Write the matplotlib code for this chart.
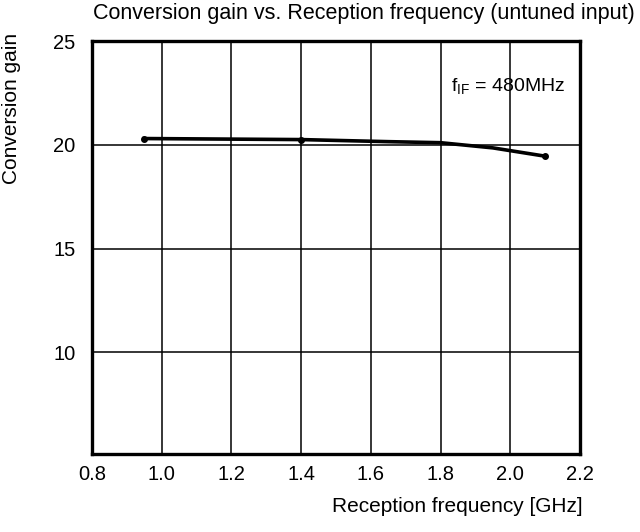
import matplotlib.pyplot as plt

plt.rcParams['font.family'] = ['Liberation Sans', 'DejaVu Sans']

freq = [0.95, 1.4, 1.65, 1.8, 1.95, 2.1]
gain = [20.3, 20.25, 20.15, 20.1, 19.85, 19.45]
marker_freq = [0.95, 1.4, 2.1]
marker_gain = [20.3, 20.25, 19.45]

xticks = [0.8, 1.0, 1.2, 1.4, 1.6, 1.8, 2.0, 2.2]
yticks = [10, 15, 20, 25]

fig = plt.figure(figsize=(6.4, 5.32), dpi=100)
ax = fig.add_axes([92/640, 1-454/532, (580-92)/640, (454-41)/532])

ax.plot(freq, gain, color='black', lw=2.6)
ax.plot(marker_freq, marker_gain, 'o', color='black', ms=4)

ax.set_xlim(0.8, 2.2)
ax.set_ylim(5.1, 25)
ax.set_xticks(xticks)
ax.set_xticklabels(['%.1f' % v for v in xticks])
ax.set_yticks(yticks)
ax.tick_params(length=0, labelsize=14.5)
ax.tick_params(axis='x', pad=8)
ax.tick_params(axis='y', pad=12)
ax.grid(True, color='black', lw=1.1)
for s in ax.spines.values():
    s.set_linewidth(2.4)

ax.text(0.97, 0.89, r'f$_{\mathregular{IF}}$ = 480MHz', transform=ax.transAxes,
        ha='right', va='center', fontsize=14)

fig.text(93/640, 1-14/532, 'Conversion gain vs. Reception frequency (untuned input)',
         ha='left', va='center', fontsize=15.5)
fig.text(12/640, 1-33/532, 'Conversion gain', rotation=90, ha='center', va='top', fontsize=15)
fig.text(583/640, 1-507/532, 'Reception frequency [GHz]', ha='right', va='center', fontsize=15)

fig.savefig('out.png')
